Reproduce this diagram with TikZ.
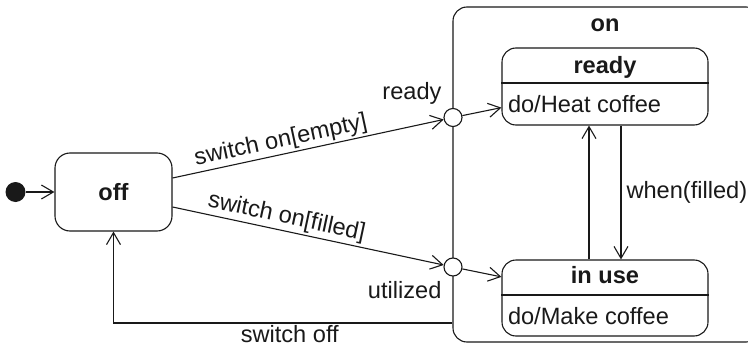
\documentclass[tikz,border=0pt]{standalone}
\usepackage{fontspec}
\setmainfont{Liberation Sans}
\usetikzlibrary{arrows.meta}
\begin{document}
\begin{tikzpicture}[x=1pt,y=-1pt,line width=1.1pt,black!90,
  tr/.style={-{Straight Barb[length=12pt,width=14pt]}},
  state/.style={draw,rounded corners=14pt,inner sep=0pt},
  txt/.style={font=\fontsize{23.6}{27}\selectfont,inner sep=2pt},
  ttl/.style={font=\fontsize{23.6}{27}\selectfont\bfseries,inner sep=2pt},
  entry/.style={draw,fill=white,circle,minimum size=18pt,inner sep=0pt}]
\useasboundingbox (0,0) rectangle (748,351);
\node[state,minimum width=307pt,minimum height=335pt] (on) at (606.5,174.5) {};
\node[ttl] (ontitle) at (605,25) {on};
\node[fill=black!90,circle,minimum size=20pt,inner sep=0pt] (init) at (15.5,192) {};
\node[state,ttl,rounded corners=15pt,minimum width=117pt,minimum height=78pt] (off) at (113.5,192) {off};
\node[state,minimum width=206pt,minimum height=77pt] (ready) at (605,86.5) {};
\draw ([yshift=3.5pt]ready.west) -- ([yshift=3.5pt]ready.east);
\node[ttl] (readytitle) at ([yshift=-20pt]ready.north) {ready};
\node[txt,anchor=west] (readydo) at ([xshift=4pt,yshift=-17.5pt]ready.west) {do/Heat coffee};
\node[state,minimum width=206pt,minimum height=76pt] (inuse) at (605,298) {};
\draw ([yshift=3pt]inuse.west) -- ([yshift=3pt]inuse.east);
\node[ttl] (inusetitle) at ([yshift=-16pt]inuse.north) {in use};
\node[txt,anchor=west] (inusedo) at ([xshift=4pt,yshift=-18pt]inuse.west) {do/Make coffee};
\node[entry] (entryA) at (453,117.5) {};
\node[entry] (entryB) at (453,267) {};
\node[txt,anchor=east] (readylbl) at (444,93) {ready};
\node[txt,anchor=east] (utilizedlbl) at (444,290) {utilized};
\draw[tr] (init) -- (off);
\draw[tr] ([yshift=14pt]off.east) -- node[txt,sloped,above,pos=0.41] {switch on[empty]} (entryA);
\draw[tr] ([yshift=-15pt]off.east) -- node[txt,sloped,above,pos=0.41] {switch on[filled]} (entryB);
\draw[tr] (entryA) -- (ready);
\draw[tr] (entryB) -- (inuse);
\draw[tr] ([xshift=-16pt]inuse.north) -- ([xshift=-16pt]ready.south);
\draw[tr] ([xshift=16pt]ready.south) -- node[txt,right,xshift=3pt] {when(filled)} ([xshift=16pt]inuse.north);
\draw[tr] ([yshift=-148.5pt]on.west) -| node[txt,below,pos=0.24] {switch off} (off.south);
\end{tikzpicture}
\end{document}
